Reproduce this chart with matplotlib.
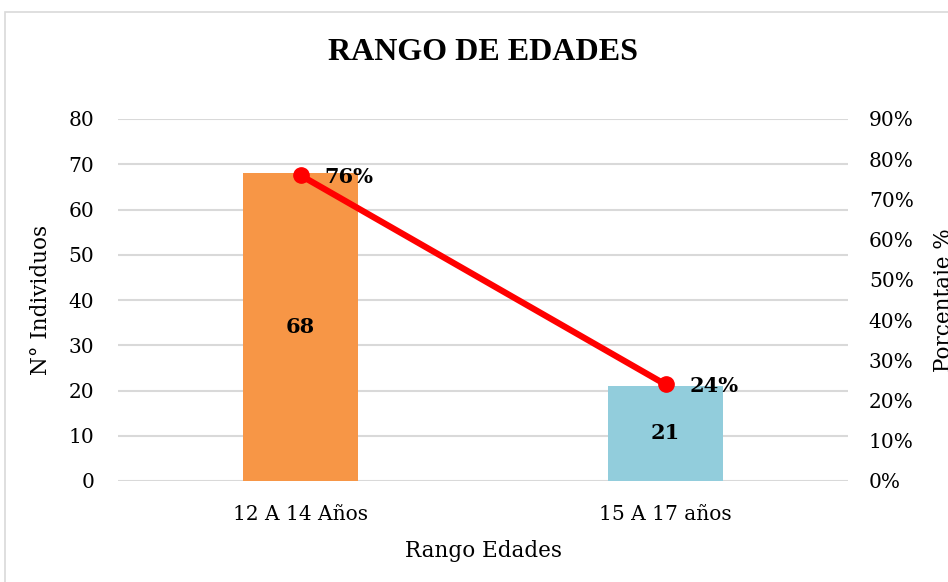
import matplotlib.pyplot as plt
from matplotlib.patches import Rectangle

categories = ["12 A 14 Años", "15 A 17 años"]
counts = [68, 21]
percents = [0.76, 0.24]
pct_labels = ["76%", "24%"]
bar_colors = ["#F79646", "#92CDDC"]

plt.rcParams["font.family"] = ["DejaVu Serif"]

fig = plt.figure(figsize=(9.48, 5.82), dpi=100)
ax = fig.add_axes([118 / 948, 1 - 481 / 582, 730 / 948, 362 / 582])

# chart frame (cropped on right and bottom like the reference)
fig.patches.append(Rectangle((5 / 948, -0.1), 1.2, 1 - 12 / 582 + 0.1,
                             transform=fig.transFigure, fill=False,
                             edgecolor="#D9D9D9", linewidth=1.2))

x = range(len(categories))
ax.bar(x, counts, width=0.315, color=bar_colors, zorder=2)
ax.set_xlim(-0.5, 1.5)
ax.set_ylim(0, 80)
ax.set_yticks(range(0, 81, 10))
ax.set_xticks(list(x))
ax.set_xticklabels(categories)
ax.grid(axis="y", color="#D9D9D9", linewidth=1.5, zorder=0)
for s in ax.spines.values():
    s.set_visible(False)
ax.tick_params(length=0, labelsize=14.5, pad=17)
ax.tick_params(axis="x", pad=17)

for i, v in enumerate(counts):
    ax.text(i, v / 2, str(v), ha="center", va="center", fontsize=15,
            fontweight="bold", zorder=3)

ax2 = ax.twinx()
ax2.plot(list(x), percents, color="#FF0000", linewidth=4.5, marker="o",
         markersize=11, zorder=4)
ax2.set_ylim(0, 0.9)
ax2.set_yticks([i / 10 for i in range(10)])
ax2.set_yticklabels([f"{i * 10}%" for i in range(10)])
for s in ax2.spines.values():
    s.set_visible(False)
ax2.tick_params(length=0, labelsize=14.5, pad=15)
for i, p in enumerate(percents):
    ax2.text(i + 0.065, p - 0.005, pct_labels[i], ha="left", va="center",
             fontsize=15, fontweight="bold")

ax.set_ylabel("N° Individuos", fontsize=15.5, labelpad=12)
ax2.set_ylabel("Porcentaje %", fontsize=15.5, labelpad=14)
ax.set_xlabel("Rango Edades", fontsize=15.5, labelpad=12)
fig.text(483 / 948, 1 - 53 / 582, "RANGO DE EDADES", ha="center",
         va="center", fontsize=23, fontweight="bold",
         family="Liberation Serif")

fig.savefig("out.png", dpi=100)
